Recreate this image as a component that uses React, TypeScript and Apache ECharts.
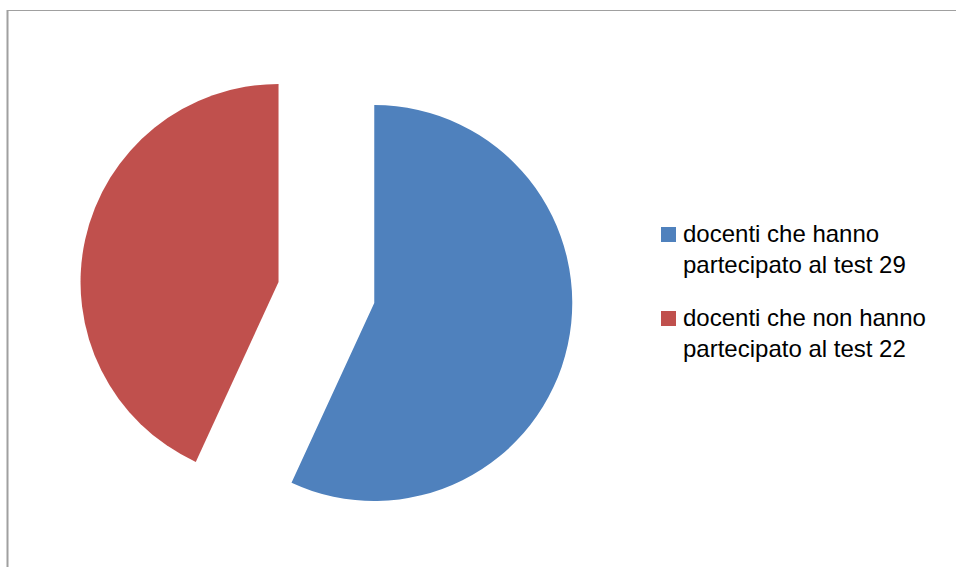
import React, { useEffect, useRef } from "react";
import * as echarts from "echarts";

const categories = [
  "docenti che hanno\npartecipato al test 29",
  "docenti che non hanno\npartecipato al test 22",
];
const values = [29, 22];
const colors = ["#4F81BD", "#C0504D"];

export default function App() {
  const ref = useRef<HTMLDivElement>(null);
  useEffect(() => {
    if (!ref.current) return;
    const chart = echarts.init(ref.current, undefined, { renderer: "svg" });
    const legendX = 661;
    const legendTop = [227, 311];
    const graphic: any[] = [
      { type: "line", shape: { x1: 8, y1: 10.5, x2: 956, y2: 10.5 }, style: { stroke: "#a0a0a0", lineWidth: 1 } },
      { type: "line", shape: { x1: 7.5, y1: 10, x2: 7.5, y2: 567 }, style: { stroke: "#a0a0a0", lineWidth: 2 } },
    ];
    categories.forEach((c, i) => {
      graphic.push({
        type: "rect",
        shape: { x: legendX, y: legendTop[i], width: 15, height: 15 },
        style: { fill: colors[i] },
      });
      graphic.push({
        type: "text",
        x: 683,
        y: legendTop[i] - 9,
        style: {
          text: c,
          fill: "#000000",
          font: "24px 'Liberation Sans', Arial, sans-serif",
          lineHeight: 31,
          verticalAlign: "top",
        },
      });
    });
    chart.setOption({
      animation: false,
      graphic,
      series: [
        {
          type: "pie",
          center: [326.4, 292.5],
          radius: 198,
          startAngle: 90,
          clockwise: true,
          selectedMode: "multiple",
          selectedOffset: 49,
          label: { show: false },
          labelLine: { show: false },
          emphasis: { disabled: true },
          itemStyle: { borderWidth: 0 },
          data: values.map((v, i) => ({
            value: v,
            name: categories[i],
            selected: true,
            itemStyle: { color: colors[i] },
          })),
        },
      ],
    });
    return () => chart.dispose();
  }, []);
  return (
    <div
      ref={ref}
      style={{ position: "fixed", left: 0, top: 0, width: 956, height: 567, background: "#fff" }}
    />
  );
}
